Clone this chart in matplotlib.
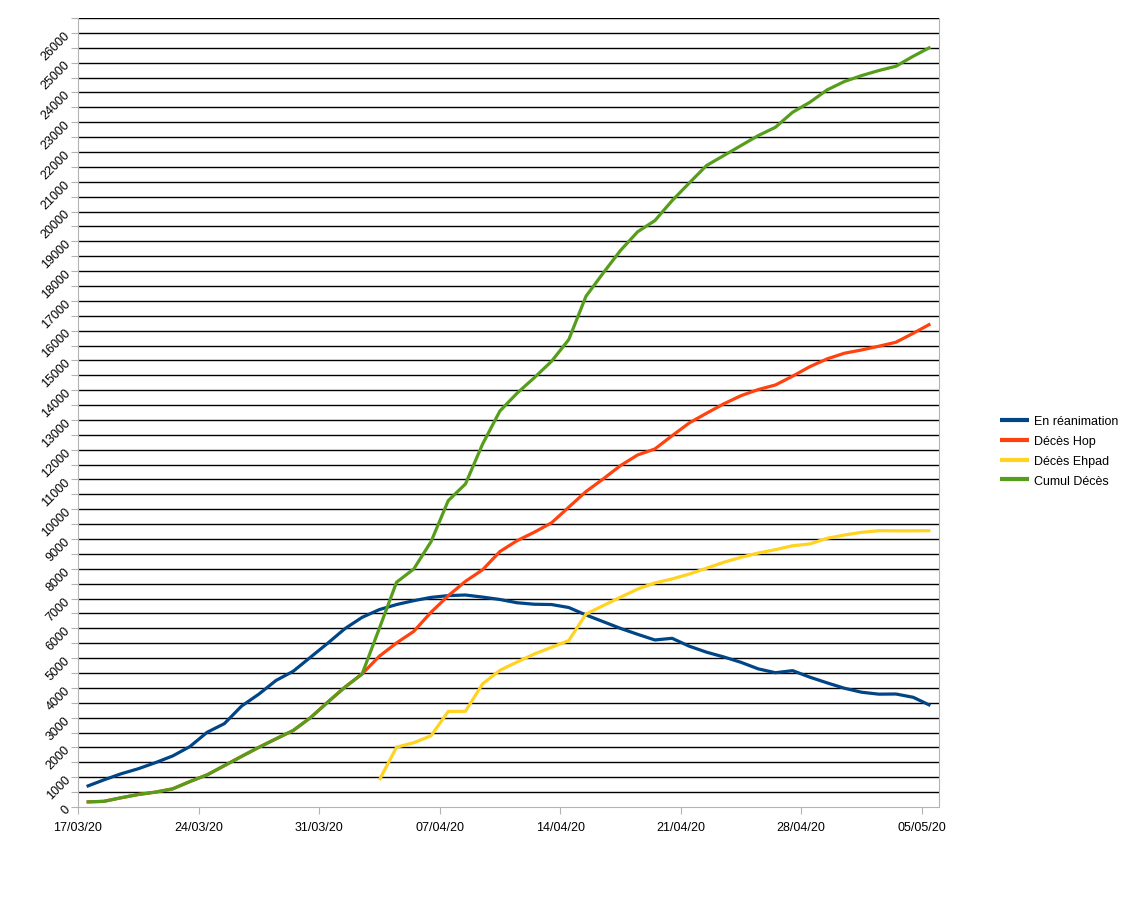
import numpy as np
import matplotlib
matplotlib.use("Agg")
import matplotlib.pyplot as plt

plt.rcParams['font.family'] = ['Liberation Sans', 'DejaVu Sans']

# Days from 17/03/20 to 05/05/20 (50 days)
dates = ['17/03/20', '18/03/20', '19/03/20', '20/03/20', '21/03/20', '22/03/20', '23/03/20',
         '24/03/20', '25/03/20', '26/03/20', '27/03/20', '28/03/20', '29/03/20', '30/03/20',
         '31/03/20', '01/04/20', '02/04/20', '03/04/20', '04/04/20', '05/04/20', '06/04/20',
         '07/04/20', '08/04/20', '09/04/20', '10/04/20', '11/04/20', '12/04/20', '13/04/20',
         '14/04/20', '15/04/20', '16/04/20', '17/04/20', '18/04/20', '19/04/20', '20/04/20',
         '21/04/20', '22/04/20', '23/04/20', '24/04/20', '25/04/20', '26/04/20', '27/04/20',
         '28/04/20', '29/04/20', '30/04/20', '01/05/20', '02/05/20', '03/05/20', '04/05/20',
         '05/05/20']

reanimation = [690, 910, 1115, 1285, 1490, 1715, 2030, 2510, 2800, 3390, 3790, 4250,
               4560, 5030, 5500, 5990, 6370, 6630, 6800, 6930, 7040, 7100, 7120, 7050,
               6970, 6860, 6810, 6800, 6700, 6450, 6225, 6000, 5800, 5610, 5666, 5400,
               5200, 5040, 4860, 4640, 4510, 4580, 4360, 4170, 3990, 3855, 3790, 3795,
               3685, 3410]

deces_hop = [170, 190, 310, 420, 500, 610, 855, 1080, 1390, 1700, 2004, 2290, 2570, 3000,
             3520, 4025, 4470, 5065, 5510, 5900, 6540, 7095, 7580, 7970, 8580, 8946, 9230,
             9545, 10070, 10595, 11020, 11465, 11825, 12025, 12470, 12900, 13225, 13540,
             13815, 14020, 14175, 14470, 14790, 15050, 15240, 15350, 15475, 15610, 15910,
             16225]

deces_ehpad = [np.nan] * 17 + [907, 2010, 2160, 2390, 3210, 3215, 4140, 4590, 4870, 5140,
                               5365, 5590, 6480, 6765, 7045, 7320, 7525, 7660, 7825, 8020,
                               8220, 8385, 8530, 8645, 8775, 8835, 9025, 9135, 9225, 9280,
                               9275, 9275, 9280]

cumul_deces = [170, 190, 310, 420, 500, 610, 855, 1080, 1390, 1700, 2004, 2290, 2570, 3000,
               3520, 4025, 4470, 6000, 7550, 7995, 8910, 10290, 10850, 12195, 13300, 13900,
               14420, 14970, 15700, 17155, 17935, 18690, 19320, 19695, 20365, 20960, 21545,
               21880, 22215, 22550, 22830, 23335, 23670, 24085, 24365, 24565, 24735, 24880,
               25215, 25520]

series_names = ['En réanimation', 'Décès Hop', 'Décès Ehpad', 'Cumul Décès']
colors = ['#004586', '#ff420e', '#ffd320', '#579d1c']

y_grid = list(range(0, 26501, 500))

fig = plt.figure(figsize=(11.29, 9.04), dpi=100)
ax = fig.add_axes([78 / 1129, 1 - 808 / 904, (939 - 78) / 1129, (808 - 19) / 904])

x = np.arange(len(dates))
for vals, name, c in zip([reanimation, deces_hop, deces_ehpad, cumul_deces], series_names, colors):
    ax.plot(x, vals, color=c, lw=2.3, label=name, solid_joinstyle='round', solid_capstyle='butt')

ax.set_xlim(-0.5, len(dates) - 0.5)
ax.set_ylim(0, 26500)

# grid lines every 500
for g in y_grid[1:]:
    ax.axhline(g, color='black', lw=1.0, zorder=0)

ax.set_yticks(y_grid)
ax.set_yticklabels([str(v) if v % 1000 == 0 else '' for v in y_grid], rotation=45,
                   ha='right', va='center', rotation_mode='anchor', fontsize=9)
xt = list(range(0, len(dates), 7))
ax.set_xticks([i - 0.5 for i in xt])
ax.set_xticklabels([dates[i] for i in xt], fontsize=9)

ax.tick_params(axis='y', length=5, color='#b3b3b3', pad=2)
ax.tick_params(axis='x', length=5, color='#b3b3b3', pad=5)
for s in ['left', 'bottom', 'right']:
    ax.spines[s].set_color('#b3b3b3')
ax.spines['top'].set_visible(False)

leg = fig.legend(loc='center left', bbox_to_anchor=(0.876, 0.5), frameon=False,
                 fontsize=9, handlelength=2.3, handletextpad=0.4, labelspacing=0.62)
for l in leg.get_lines():
    l.set_linewidth(3)

fig.savefig('out.png', dpi=100)
